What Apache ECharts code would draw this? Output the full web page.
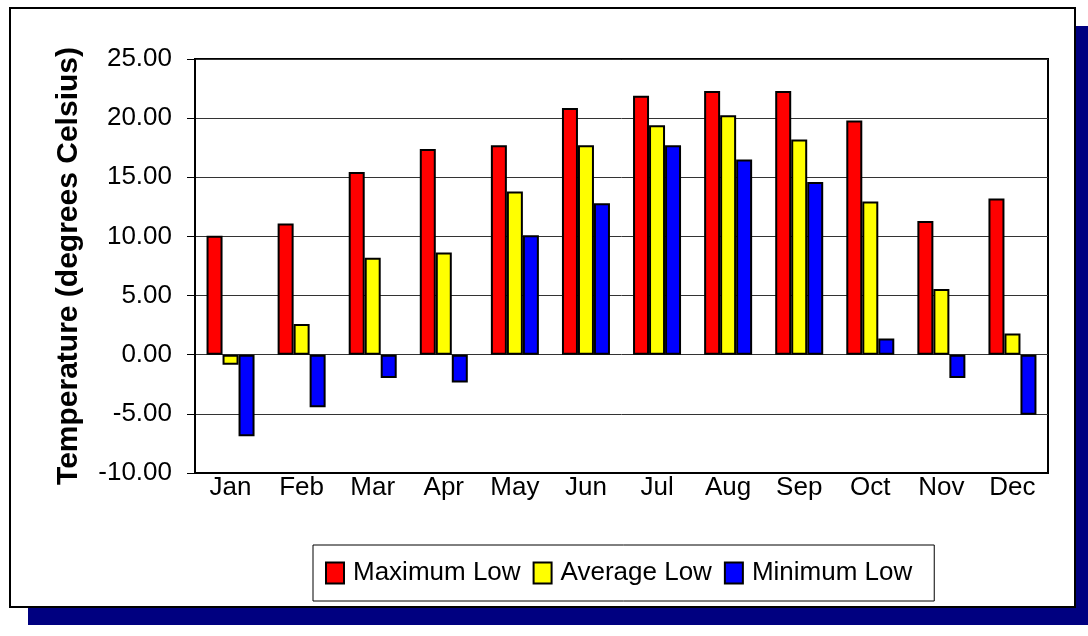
<!DOCTYPE html>
<html>
<head>
<meta charset="utf-8">
<script src="https://cdn.jsdelivr.net/npm/echarts@6/dist/echarts.min.js"></script>
<style>
  html, body { margin: 0; padding: 0; background: #fff; }
  #chart { width: 1088px; height: 636px; }
</style>
</head>
<body>
<div id="chart"></div>
<script>
const months = ['Jan', 'Feb', 'Mar', 'Apr', 'May', 'Jun', 'Jul', 'Aug', 'Sep', 'Oct', 'Nov', 'Dec']
const maxLow = [10.05, 11.1, 15.45, 17.4, 17.7, 20.85, 21.9, 22.3, 22.3, 19.8, 11.3, 13.2]
const avgLow = [-0.85, 2.6, 8.2, 8.65, 13.8, 17.7, 19.4, 20.25, 18.2, 12.95, 5.55, 1.8]
const minLow = [-6.9, -4.45, -1.97, -2.34, 10.1, 12.8, 17.7, 16.5, 14.6, 1.38, -1.97, -5.07]

const font = 'Liberation Sans, Arial, sans-serif'

function bar(name, color, data) {
  return {
    name: name,
    type: 'bar',
    data: data,
    barWidth: 16,
    barGap: '0%',
    itemStyle: {color: color, borderColor: '#000', borderWidth: 2}
  }
}

const chart = echarts.init(document.getElementById('chart'))
chart.setOption({
  animation: false,
  textStyle: {fontFamily: font},
  graphic: [
    // navy drop shadow and black frame around the whole chart
    {type: 'rect', z: -10, shape: {x: 28, y: 26, width: 1060, height: 599}, style: {fill: '#000080'}},
    {type: 'rect', z: -9, shape: {x: 10, y: 8, width: 1065, height: 599}, style: {fill: '#fff', stroke: '#000', lineWidth: 2}}
  ],
  grid: {
    left: 195, right: 40, top: 59, bottom: 163,
    show: true, borderColor: '#000', borderWidth: 2
  },
  legend: {
    left: 313, top: 545,
    padding: [15, 22, 15, 12],
    borderColor: '#000', borderWidth: 1,
    itemWidth: 18, itemHeight: 21, itemGap: 12,
    icon: 'rect',
    textStyle: {fontSize: 26, color: '#000', fontFamily: font, padding: [0, 0, 0, 4]},
    data: ['Maximum Low', 'Average Low', 'Minimum Low']
  },
  xAxis: {
    type: 'category',
    data: months,
    axisLine: {onZero: false, lineStyle: {color: '#000', width: 2}},
    axisTick: {show: false},
    axisLabel: {fontSize: 26, color: '#000', margin: 2}
  },
  yAxis: {
    type: 'value',
    min: -10, max: 25, interval: 5,
    name: 'Temperature (degrees Celsius)',
    nameLocation: 'middle',
    nameGap: 111,
    nameTextStyle: {fontSize: 30, fontWeight: 'bold', color: '#000'},
    axisLine: {show: true, lineStyle: {color: '#000', width: 2}},
    axisTick: {show: true, length: 8, lineStyle: {color: '#000'}},
    axisLabel: {fontSize: 26, color: '#000', margin: 23, formatter: v => v.toFixed(2)},
    splitLine: {lineStyle: {color: '#333', width: 1}}
  },
  series: [
    bar('Maximum Low', '#ff0000', maxLow),
    bar('Average Low', '#ffff00', avgLow),
    bar('Minimum Low', '#0000ff', minLow)
  ]
})
</script>
</body>
</html>
